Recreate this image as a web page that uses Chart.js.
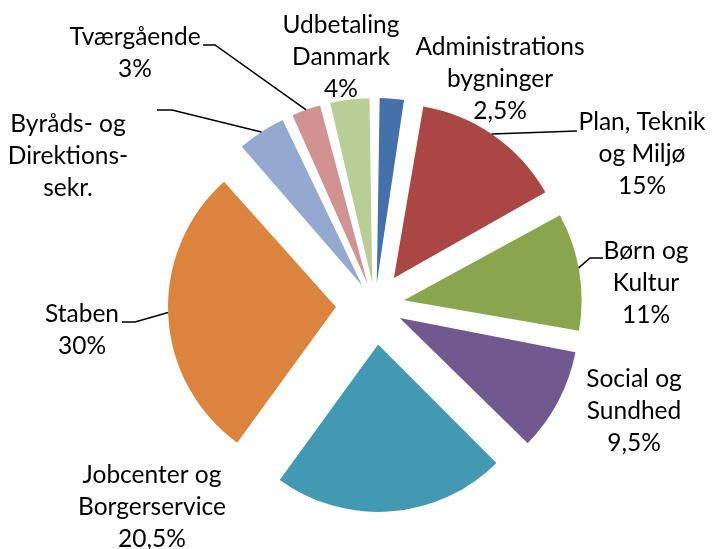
<!DOCTYPE html>
<html lang="da">
<head>
<meta charset="UTF-8">
<title>Fordeling pr. område</title>
<style>
  html, body { margin: 0; padding: 0; background: #fff; }
  #wrap { width: 712px; height: 549px; }
</style>
<script src="https://cdn.jsdelivr.net/npm/chart.js"></script>
</head>
<body>
<div id="wrap"><canvas id="pie"></canvas></div>
<script>
// data (clockwise from 12 o'clock)
// slice sizes measured from the wedge angles; the printed labels are the chart's own text
const categories = [
  ["Administrations", "bygninger"],
  ["Plan, Teknik", "og Miljø"],
  ["Børn og", "Kultur"],
  ["Social og", "Sundhed"],
  ["Jobcenter og", "Borgerservice"],
  ["Staben"],
  ["Byråds- og", "Direktions-", "sekr."],
  ["Tværgående"],
  ["Udbetaling", "Danmark"]
];
const shares = [2.6, 14.3, 11, 9.6, 22.5, 28.4, 4.7, 3, 3.9];
const shareLabels = ["2,5%", "15%", "11%", "9,5%", "20,5%", "30%", "", "3%", "4%"];

const colors = ["#4571aa", "#a94745", "#89a54e", "#71588f", "#4299b1",
                "#db843d", "#93a9cf", "#d19392", "#b9cd96"];

// label placement: centre x, first baseline y
const labelPos = [
  [500, 55], [642, 130], [646, 259], [634, 387], [152, 483],
  [82, 322], [68, 132], [135, 45], [341, 33]
];
const lineH = 32;
// leader lines: where on the slice edge they start (fraction of the arc) and the rest of the path
const leaders = {
  1: { frac: 0.48, pts: [[577, 131]] },
  2: { frac: 0.47, pts: [[590, 258], [603, 258]] },
  5: { frac: 0.51, pts: [[135, 322], [122, 322]] },
  6: { frac: 0.5, pts: [[172, 110], [157, 110]] },
  7: { frac: 0.5, pts: [[215, 45], [203, 45]] }
};

const explode = 40;   // wanted pull-out in px
const OFF_DIV = 4;    // chart.js v4 arc draws offset/4 (+ a fix for thin slices)

function fixOf(circ) {
  return 1 - Math.sin(Math.min(Math.PI, circ || 0));
}

const labelPlugin = {
  id: "outLabels",
  afterDatasetsDraw(chart) {
    const ctx = chart.ctx;
    const arcs = chart.getDatasetMeta(0).data;
    ctx.save();
    ctx.strokeStyle = "#000";
    ctx.lineWidth = 1.5;
    Object.keys(leaders).forEach(k => {
      const a = arcs[k];
      const l = leaders[k];
      const off = (a.options.offset || 0) / OFF_DIV;
      const mid = (a.startAngle + a.endAngle) / 2;
      const shift = off + off * fixOf(a.circumference);
      const cx = a.x + Math.cos(mid) * shift;
      const cy = a.y + Math.sin(mid) * shift;
      const ang = a.startAngle + l.frac * (a.endAngle - a.startAngle);
      ctx.beginPath();
      ctx.moveTo(cx + Math.cos(ang) * a.outerRadius, cy + Math.sin(ang) * a.outerRadius);
      l.pts.forEach(p => ctx.lineTo(p[0], p[1]));
      ctx.stroke();
    });

    ctx.fillStyle = "#000";
    ctx.font = "24.5px Lato";
    ctx.textAlign = "center";
    ctx.textBaseline = "alphabetic";
    categories.forEach((lines, i) => {
      const all = shareLabels[i] ? lines.concat([shareLabels[i]]) : lines;
      all.forEach((t, j) => {
        ctx.fillText(t, labelPos[i][0], labelPos[i][1] + j * lineH);
      });
    });
    ctx.restore();
  }
};

new Chart(document.getElementById("pie"), {
  type: "pie",
  data: {
    labels: categories.map(c => c.join(" ")),
    datasets: [{
      data: shares,
      backgroundColor: colors,
      borderWidth: 0,
      offset: c => {
        const circ = (c.raw / 100) * Math.PI * 2;
        return explode * OFF_DIV / (1 + fixOf(circ));
      }
    }]
  },
  options: {
    responsive: true,
    maintainAspectRatio: false,
    animation: false,
    radius: 167,
    layout: { padding: { left: 38, right: 0, top: 61, bottom: 0 } },
    plugins: {
      legend: { display: false },
      tooltip: { enabled: false }
    }
  },
  plugins: [labelPlugin]
});
</script>
</body>
</html>
